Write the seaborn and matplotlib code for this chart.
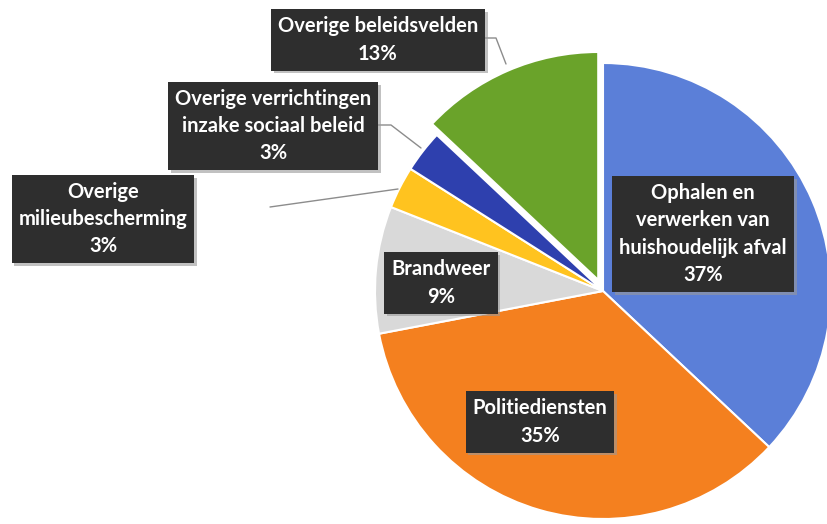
import matplotlib
matplotlib.use("Agg")
import matplotlib.pyplot as plt
import matplotlib.patheffects as pe
import seaborn as sns

# slices, clockwise from 12 o'clock
categories = [
    "Ophalen en\nverwerken van\nhuishoudelijk afval",
    "Politiediensten",
    "Brandweer",
    "Overige\nmilieubescherming",
    "Overige verrichtingen\ninzake sociaal beleid",
    "Overige beleidsvelden",
]
shares = [37, 35, 9, 3, 3, 13]
colors = ["#5b7fd8", "#f4801f", "#d9d9d9", "#ffc31f", "#2e40ae", "#6aa32a"]
# pie explode is in data units here (pixels)
explode = [0, 0, 0, 0, 0, 12]

# label box centres (pixels, y up)
label_pos = [(703, 290), (540, 102), (441, 241), (103, 305), (273, 398), (378, 484)]

# leader lines for the outside labels
leaders = [
    [(270, 317), (398, 335)],
    [(378, 399), (391, 399), (421, 376)],
    [(484, 486), (496, 486), (506, 460)],
]

sns.set_theme(style="white")
plt.rcParams["font.family"] = ["Lato", "DejaVu Sans"]

fig = plt.figure(figsize=(8.28, 5.24), dpi=100)
ax = fig.add_axes([0, 0, 1, 1])

ax.pie(shares, colors=colors, explode=explode, startangle=90, counterclock=False,
       center=(603, 233), radius=228, frame=True,
       wedgeprops=dict(edgecolor="white", linewidth=1.5))
ax.set_xlim(0, 828)
ax.set_ylim(0, 524)
ax.set_aspect("equal")
ax.axis("off")

for pts in leaders:
    xs, ys = zip(*pts)
    ax.plot(xs, ys, color="#8c8c8c", lw=1)

for cat, val, (x, y) in zip(categories, shares, label_pos):
    t = ax.text(x, y, f"{cat}\n{val}%", ha="center", va="center", color="white",
                fontsize=14.5, fontweight="bold", linespacing=1.45,
                bbox=dict(boxstyle="square,pad=0.35", facecolor="#2e2e2e", edgecolor="none"))
    t.get_bbox_patch().set_path_effects([
        pe.SimplePatchShadow(offset=(2, -2), shadow_rgbFace="#999999", alpha=0.6),
        pe.Normal()])

fig.savefig("out.png", dpi=100)
